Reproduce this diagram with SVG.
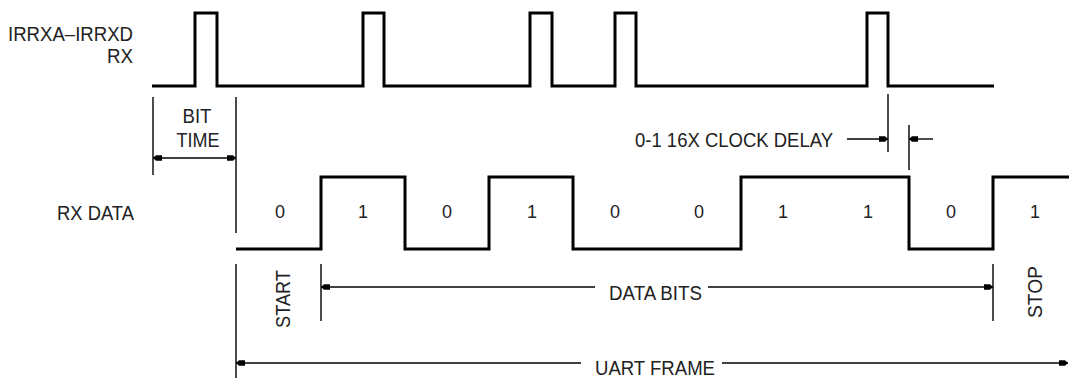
<svg xmlns="http://www.w3.org/2000/svg" width="1069" height="378" viewBox="0 0 1069 378">
<style>
.wave{fill:none;stroke:#000;stroke-width:3;stroke-linejoin:miter}
.dim{fill:none;stroke:#000;stroke-width:1.4}
.lbl{font-family:"Liberation Sans",Arial,sans-serif;font-size:20px;fill:#222}
.dig{font-family:"Liberation Sans",Arial,sans-serif;font-size:18px;fill:#222;text-anchor:middle}
</style>
<defs>
<marker id="ah" viewBox="0 0 9 7" refX="9" refY="3.5" markerWidth="9" markerHeight="7" markerUnits="userSpaceOnUse" orient="auto">
<path d="M0,0.8 L6,0.8 L9,3.5 L6,6.2 L0,6.2 Z" fill="#000"/>
</marker>
</defs>
<rect width="1069" height="378" fill="#fff"/>
<g id="label-irrx">
<text class="lbl" x="133" y="41" text-anchor="end" textLength="125" lengthAdjust="spacingAndGlyphs">IRRXA–IRRXD</text>
<text class="lbl" x="133" y="63" text-anchor="end" textLength="26" lengthAdjust="spacingAndGlyphs">RX</text>
</g>
<g id="irrx-wave">
<path class="wave" d="M152,86 H195 V13 H217 V86 H363 V13 H384 V86 H530 V13 H552 V86 H615 V13 H636 V86 H867 V13 H888 V86 H994"/>
</g>
<g id="label-rxdata">
<text class="lbl" x="57" y="220" textLength="77" lengthAdjust="spacingAndGlyphs">RX DATA</text>
</g>
<g id="rxdata-wave">
<path class="wave" d="M236,249 H321 V177 H405 V249 H489 V177 H573 V249 H741 V177 H909 V249 H993 V177 H1069"/>
<text class="dig" x="280" y="218">0</text>
<text class="dig" x="363" y="218">1</text>
<text class="dig" x="447" y="218">0</text>
<text class="dig" x="532" y="218">1</text>
<text class="dig" x="615" y="218">0</text>
<text class="dig" x="699" y="218">0</text>
<text class="dig" x="783" y="218">1</text>
<text class="dig" x="868" y="218">1</text>
<text class="dig" x="951" y="218">0</text>
<text class="dig" x="1035" y="218">1</text>
</g>
<g id="bit-time">
<text class="lbl" x="197" y="123" text-anchor="middle" textLength="29" lengthAdjust="spacingAndGlyphs">BIT</text>
<text class="lbl" x="198" y="147" text-anchor="middle" textLength="43" lengthAdjust="spacingAndGlyphs">TIME</text>
</g>
<g id="clock-delay">
<text class="lbl" x="635" y="147" textLength="198" lengthAdjust="spacingAndGlyphs">0-1 16X CLOCK DELAY</text>
</g>
<g id="start">
<text class="lbl" transform="translate(290,299) rotate(-90)" text-anchor="middle" textLength="58" lengthAdjust="spacingAndGlyphs">START</text>
</g>
<g id="stop">
<text class="lbl" transform="translate(1042,292) rotate(-90)" text-anchor="middle" textLength="52" lengthAdjust="spacingAndGlyphs">STOP</text>
</g>
<g id="data-bits">
<text class="lbl" x="609" y="300" textLength="93" lengthAdjust="spacingAndGlyphs">DATA BITS</text>
</g>
<g id="uart-frame">
<text class="lbl" x="595" y="375" textLength="120" lengthAdjust="spacingAndGlyphs">UART FRAME</text>
</g>
<g id="connectors">
<line class="dim" x1="153" y1="97" x2="153" y2="175"/>
<line class="dim" x1="236" y1="97" x2="236" y2="233"/>
<line class="dim" x1="236" y1="264" x2="236" y2="378"/>
<line class="dim" x1="321" y1="264" x2="321" y2="321"/>
<line class="dim" x1="993" y1="264" x2="993" y2="321"/>
<line class="dim" x1="888" y1="94" x2="888" y2="152"/>
<line class="dim" x1="909" y1="125" x2="909" y2="170"/>
<line class="dim" x1="195" y1="158" x2="153" y2="158" marker-end="url(#ah)"/>
<line class="dim" x1="195" y1="158" x2="236" y2="158" marker-end="url(#ah)"/>
<line class="dim" x1="847" y1="139" x2="888" y2="139" marker-end="url(#ah)"/>
<line class="dim" x1="933" y1="139" x2="909" y2="139" marker-end="url(#ah)"/>
<line class="dim" x1="595" y1="287" x2="321" y2="287" marker-end="url(#ah)"/>
<line class="dim" x1="708" y1="287" x2="993" y2="287" marker-end="url(#ah)"/>
<line class="dim" x1="581" y1="363" x2="236" y2="363" marker-end="url(#ah)"/>
<line class="dim" x1="722" y1="363" x2="1068" y2="363" marker-end="url(#ah)"/>
</g>
</svg>
